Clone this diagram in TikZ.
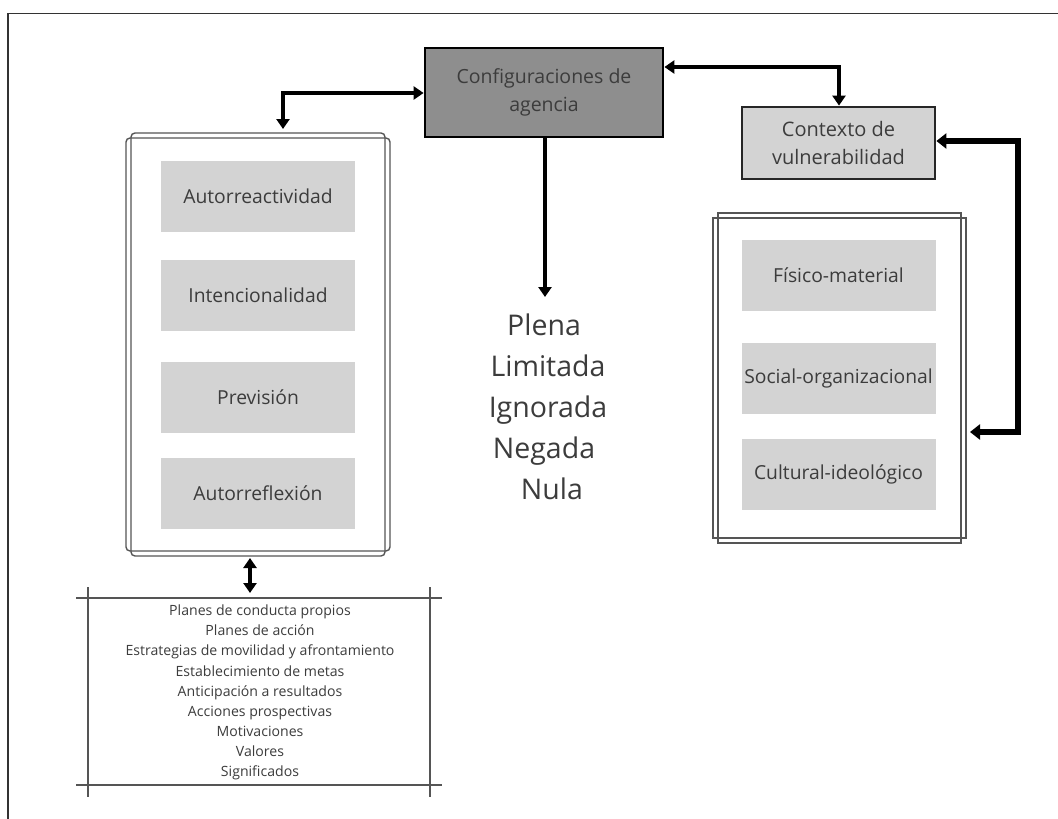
\documentclass[tikz,border=0pt]{standalone}
\usepackage{fontspec}
\setmainfont{Open Sans}
\usetikzlibrary{arrows.meta}
\definecolor{txt}{HTML}{3C3C3C}
\definecolor{darkfill}{HTML}{8E8E8E}
\definecolor{lightfill}{HTML}{D3D3D3}
\definecolor{framegray}{HTML}{555555}
\tikzset{
  x=1pt, y=-1pt,
  conn/.style={line width=3.2pt, draw=black, -{Triangle[width=13pt,length=10pt]}},
  conn2/.style={line width=3.2pt, draw=black, {Triangle[width=13pt,length=10pt]}-{Triangle[width=13pt,length=10pt]}},
  thickconn/.style={line width=5.5pt, draw=black, {Triangle[width=15pt,length=10pt]}-{Triangle[width=15pt,length=10pt]}},
  itembox/.style={fill=lightfill, draw=none, minimum width=194pt, minimum height=71pt, inner sep=0pt, text=txt, font=\fontsize{19.3}{22}\selectfont},
  mainbox/.style={fill=darkfill, draw=black, line width=2.8pt, minimum width=238pt, minimum height=89pt, inner sep=0pt, align=center, text=txt, font=\fontsize{19.5}{28}\selectfont},
  ctxbox/.style={fill=lightfill, draw=black!85, line width=2.8pt, minimum width=193pt, minimum height=72pt, inner sep=0pt, align=center, text=txt, font=\fontsize{20}{28}\selectfont},
  panelline/.style={draw=framegray, line width=1.4pt},
  tableline/.style={draw=framegray, line width=1.8pt},
  bigword/.style={text=txt, font=\fontsize{28.5}{30}\selectfont, anchor=base, inner sep=0pt},
}
\begin{document}
\begin{tikzpicture}
\useasboundingbox (0,0) rectangle (1058,819);
\fill[white] (0,0) rectangle (1058,819);
% page frame (top and left)
\draw[line width=1.8pt, draw=black!80] (8,819) -- (8,13.5) -- (1058,13.5);

% main box
\node[mainbox] (config) at (544,92.5) {Configuraciones de\\agencia};

% contexto
\node[ctxbox] (ctx) at (838.5,143) {Contexto de\\vulnerabilidad};

% left panel frames
\draw[panelline, rounded corners=4pt] (126,138) rectangle (390,551);
\draw[panelline, rounded corners=4pt] (131,133) rectangle (385,556);
\coordinate (lpTop) at (283,129);
\coordinate (lpBot) at (250,558);

% left items
\node[itembox] (autorre) at (258,196) {Autorreactividad};
\node[itembox] (intenc) at (258,295) {Intencionalidad};
\node[itembox] (prev) at (258,397) {Previsión};
\node[itembox] (autorref) at (258,493.5) {Autorreflexión};

% right panel frames
\draw[panelline] (713,218) rectangle (966,538);
\draw[panelline] (718,213) rectangle (961,543);
\coordinate (rpEast) at (970,432);

% right items
\node[itembox] (fisico) at (838.5,275.5) {Físico-material};
\node[itembox] (social) at (838.5,378.5) {Social-organizacional};
\node[itembox] (cultural) at (838.5,474.5) {Cultural-ideológico};

% agency levels
\coordinate (levelsTop) at (545,297);
\node[bigword] (plena) at (544,335) {Plena};
\node[bigword] (limitada) at (548,376) {Limitada};
\node[bigword] (ignorada) at (548,417) {Ignorada};
\node[bigword] (negada) at (544,458) {Negada};
\node[bigword] (nula) at (552,499) {Nula};

% bottom table
\draw[tableline] (76,598) -- (442,598);
\draw[tableline] (76,785) -- (442,785);
\draw[tableline] (88,587) -- (88,797);
\draw[tableline] (430,587) -- (430,797);
\coordinate (tblTop) at (250,593);
\node[text=txt, align=center, font=\fontsize{14.1}{20.1}\selectfont, inner sep=0pt] (list) at (260,692.5)
 {Planes de conducta propios\\Planes de acción\\Estrategias de movilidad y afrontamiento\\Establecimiento de metas\\Anticipación a resultados\\Acciones prospectivas\\Motivaciones\\Valores\\Significados};

% connectors
\draw[conn2] (config.west |- 0,93) -- (283,93) -- (lpTop);
\draw[conn2] (config.east |- 0,67) -- (839,67) -- (ctx.north -| 839,0);
\draw[conn] (config.south -| levelsTop) -- (levelsTop);
\draw[conn2] (lpBot) -- (tblTop);
\draw[thickconn] (ctx.east |- 0,141) -- (1018,141) -- (1018,432) -- (rpEast);
\end{tikzpicture}
\end{document}
